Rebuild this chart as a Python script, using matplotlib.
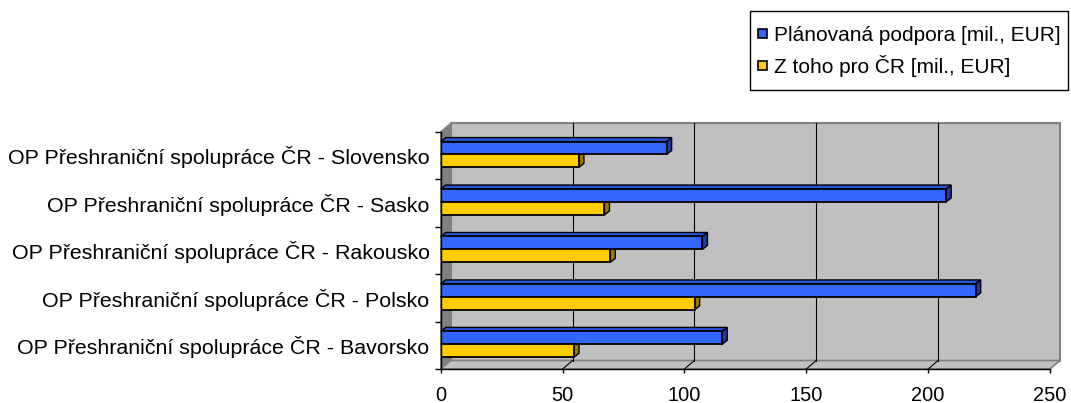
import matplotlib
matplotlib.use("Agg")
import matplotlib.pyplot as plt
from matplotlib.patches import Polygon, Rectangle, Patch
from matplotlib.legend_handler import HandlerPatch

# ---- data ----
categories = [
    "OP Přeshraniční spolupráce ČR - Bavorsko",
    "OP Přeshraniční spolupráce ČR - Polsko",
    "OP Přeshraniční spolupráce ČR - Rakousko",
    "OP Přeshraniční spolupráce ČR - Sasko",
    "OP Přeshraniční spolupráce ČR - Slovensko",
]
planned = [115.5, 219.5, 107.4, 207.4, 92.7]
for_cr = [54.7, 104.2, 69.6, 67.2, 56.7]
series_names = ["Plánovaná podpora [mil., EUR]", "Z toho pro ČR [mil., EUR]"]
xticks = [0, 50, 100, 150, 200, 250]

plt.rcParams['font.family'] = ['Liberation Sans', 'DejaVu Sans']

W, H = 1071, 403
fig = plt.figure(figsize=(W / 100, H / 100), dpi=100)
ax_l, ax_r, ax_t, ax_b = 440.7, 1050.0, 131.7, 369.0
ax = fig.add_axes([ax_l / W, (H - ax_b) / H, (ax_r - ax_l) / W, (ax_b - ax_t) / H])

xmax = 250
n = len(categories)
ax.set_xlim(0, xmax)
ax.set_ylim(-0.5, n - 0.5)

pxx = (ax_r - ax_l) / xmax
pxy = (ax_b - ax_t) / n
DX, DY = 10 / pxx, 8.5 / pxy          # wall depth
bdx, bdy = 5 / pxx, 4 / pxy           # bar depth

y0, y1 = -0.5, n - 0.5
wall = '#C0C0C0'
# back wall
ax.add_patch(Rectangle((DX, y0 + DY), xmax, n, facecolor=wall, edgecolor='#808080',
                       lw=1.5, zorder=0, clip_on=False))
# floor
ax.add_patch(Polygon([(0, y0), (xmax, y0), (xmax + DX, y0 + DY), (DX, y0 + DY)],
                     closed=True, facecolor=wall, edgecolor='#808080', lw=1.2,
                     zorder=0.5, clip_on=False))
# left wall
ax.add_patch(Polygon([(0, y0), (DX, y0 + DY), (DX, y1 + DY), (0, y1)],
                     closed=True, facecolor='#808080', edgecolor='#808080', lw=0.8,
                     zorder=0.6, clip_on=False))
# gridlines
for xv in xticks[1:-1]:
    ax.plot([xv + DX, xv + DX], [y0 + DY, y1 + DY], color='black', lw=0.8,
            zorder=0.7, clip_on=False)
    ax.plot([xv, xv + DX], [y0, y0 + DY], color='black', lw=0.8,
            zorder=0.7, clip_on=False)

h = 0.272
colors = [('#3366FF', '#2A55DD', '#1F3D99'), ('#FFCC00', '#E6B800', '#997A00')]
offsets = [0.02, 0.02 - h]
for vals, (cf, ct, cs), off in zip([planned, for_cr], colors, offsets):
    ys = [i + off for i in range(n)]
    for w, yb in zip(vals, ys):
        yt = yb + h
        ax.add_patch(Polygon([(0, yt), (w, yt), (w + bdx, yt + bdy), (bdx, yt + bdy)],
                             closed=True, facecolor=ct, edgecolor='black', lw=1.0,
                             zorder=2, clip_on=False))
        ax.add_patch(Polygon([(w, yb), (w + bdx, yb + bdy), (w + bdx, yt + bdy), (w, yt)],
                             closed=True, facecolor=cs, edgecolor='black', lw=1.0,
                             zorder=2, clip_on=False))
    ax.barh(ys, vals, height=h, align='edge', color=cf, edgecolor='black',
            linewidth=1.3, zorder=3)

for s in ['top', 'right']:
    ax.spines[s].set_visible(False)
for s in ['left', 'bottom']:
    ax.spines[s].set_color('black')
    ax.spines[s].set_linewidth(1.0)
    ax.spines[s].set_zorder(4)

ax.set_xticks(xticks)
ax.set_xticklabels([str(v) for v in xticks])
ax.tick_params(axis='x', direction='out', length=3, width=1, pad=9, labelsize=14.4)
ax.set_yticks([i - 0.5 for i in range(n + 1)])
ax.set_yticklabels([])
ax.tick_params(axis='y', which='major', direction='out', length=4.5, width=1)
ax.set_yticks(range(n), minor=True)
ax.set_yticklabels(categories, minor=True)
ax.tick_params(axis='y', which='minor', length=0, pad=8, labelsize=15.4)


def square(legend, orig_handle, xdescent, ydescent, width, height, fontsize):
    s = 6.3
    return Rectangle((-xdescent + (width - s) / 2, 0.36 * fontsize - s / 2), s, s)


handles = [Patch(facecolor=colors[0][0], edgecolor='black', lw=1.2),
           Patch(facecolor=colors[1][0], edgecolor='black', lw=1.2)]
leg = fig.legend(handles, series_names, loc='upper right',
                 bbox_to_anchor=(1068 / W, 1 - 11 / H), borderaxespad=0,
                 fontsize=15, handlelength=0.5, handleheight=2.0,
                 handletextpad=0.3, labelspacing=0.0, borderpad=0.35,
                 fancybox=False, framealpha=1, edgecolor='black',
                 handler_map={Patch: HandlerPatch(patch_func=square)})
leg.get_frame().set_linewidth(1.0)

fig.savefig('out.png', dpi=100)
